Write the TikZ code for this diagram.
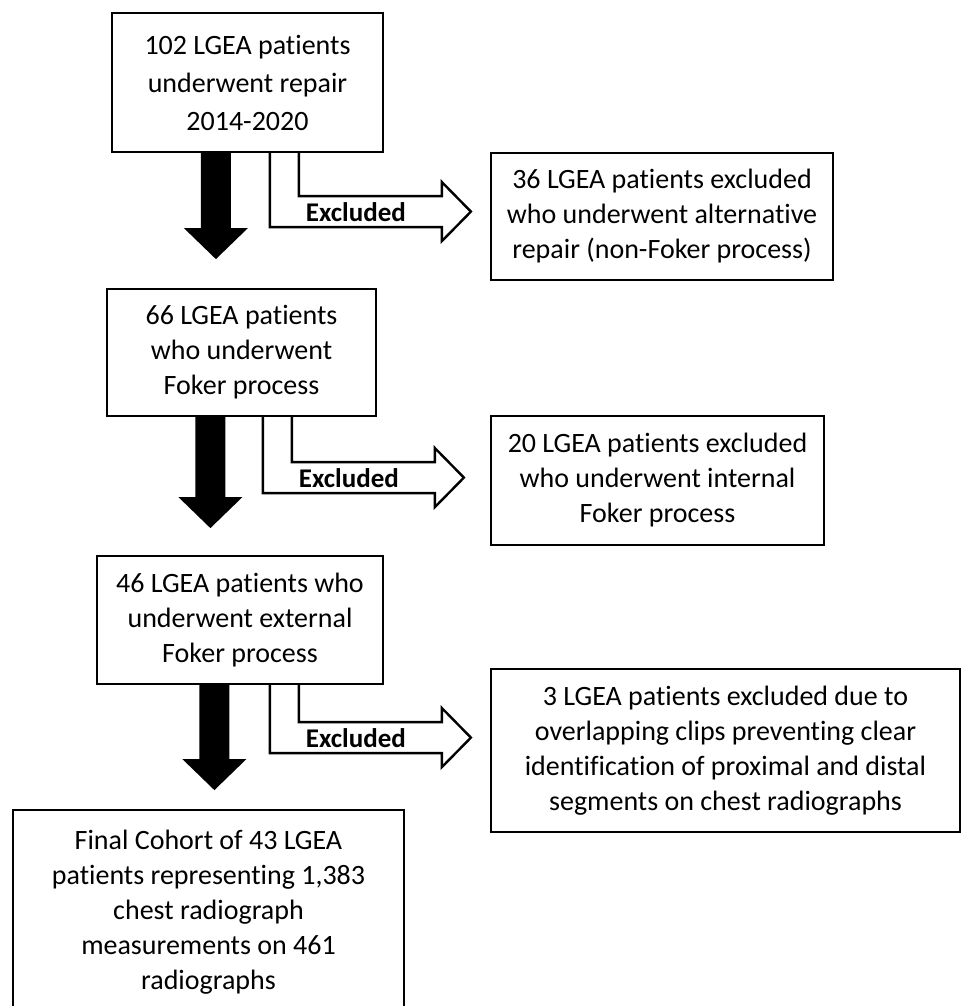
\documentclass[tikz,border=0pt]{standalone}
\usepackage{fontspec}
\setmainfont[Ligatures=NoCommon]{Carlito}
\usepackage{tikz}
\usetikzlibrary{calc}

\tikzset{
  box/.style={draw=black, line width=1.1pt, align=center, inner sep=0pt,
    font=\fontsize{14}{17.5}\selectfont},
  blockarrow/.style={fill=black},
  exclarrow/.style={draw=black, fill=white, line width=1.2pt, line join=miter},
  excllabel/.style={font=\fontsize{13.5}{15}\selectfont\bfseries, inner sep=0pt}
}

\begin{document}
\begin{tikzpicture}[x=0.5pt,y=-0.5pt]
\useasboundingbox (0,0) rectangle (964,1006);
%% main column
\node[box, minimum width=135.5pt, minimum height=69.5pt,
  font=\fontsize{14}{19}\selectfont] (b1) at (247.5,82.5)
  {102 LGEA patients\\underwent repair\\2014-2020};
\node[box, minimum width=134.5pt, minimum height=63.5pt] (b2) at (241.5,352.5)
  {66 LGEA patients\\who underwent\\Foker process};
\node[box, minimum width=143pt, minimum height=64pt] (b3) at (240,620)
  {46 LGEA patients who\\underwent external\\Foker process};
\node[box, minimum width=195.5pt, minimum height=102pt] (b4) at (208.5,912)
  {Final Cohort of 43 LGEA\\patients representing 1,383\\chest radiograph\\measurements on 461\\radiographs};
%% excluded column
\node[box, minimum width=171pt, minimum height=63.5pt] (e1) at (662,216.5)
  {36 LGEA patients excluded\\who underwent alternative\\repair (non-Foker process)};
\node[box, minimum width=166.5pt, minimum height=64.5pt] (e2) at (657.5,480.5)
  {20 LGEA patients excluded\\who underwent internal\\Foker process};
\node[box, minimum width=234.5pt, minimum height=81.5pt] (e3) at (725.5,750.5)
  {3 LGEA patients excluded due to\\overlapping clips preventing clear\\identification of proximal and distal\\segments on chest radiographs};
%% black arrows down
\foreach \from/\dx/\l in {b1/105/75, b2/104.5/80, b3/118.5/74}
  \fill[blockarrow, shift={($(\from.south west)+(\dx,0)$)}]
    (-15,0) -- (-15,\l) -- (-32,\l) -- (0,\l+31) -- (32,\l) -- (15,\l) -- (15,0) -- cycle;
%% hollow arrows to the excluded boxes
\foreach \from/\dx/\s/\i in {b1/159/43/1, b2/157/45/2, b3/174/37/3}
  \draw[exclarrow, shift={($(\from.south west)+(\dx,0)$)}]
    (0,0) -- (0,\s+31) -- (172,\s+31) -- (172,\s+45) -- (201,\s+15.5)
    -- (172,\s-14) -- (172,\s) -- (29,\s) -- (29,0)
    node[excllabel] (lbl\i) at (86,\s+16) {Excluded};
\end{tikzpicture}
\end{document}
